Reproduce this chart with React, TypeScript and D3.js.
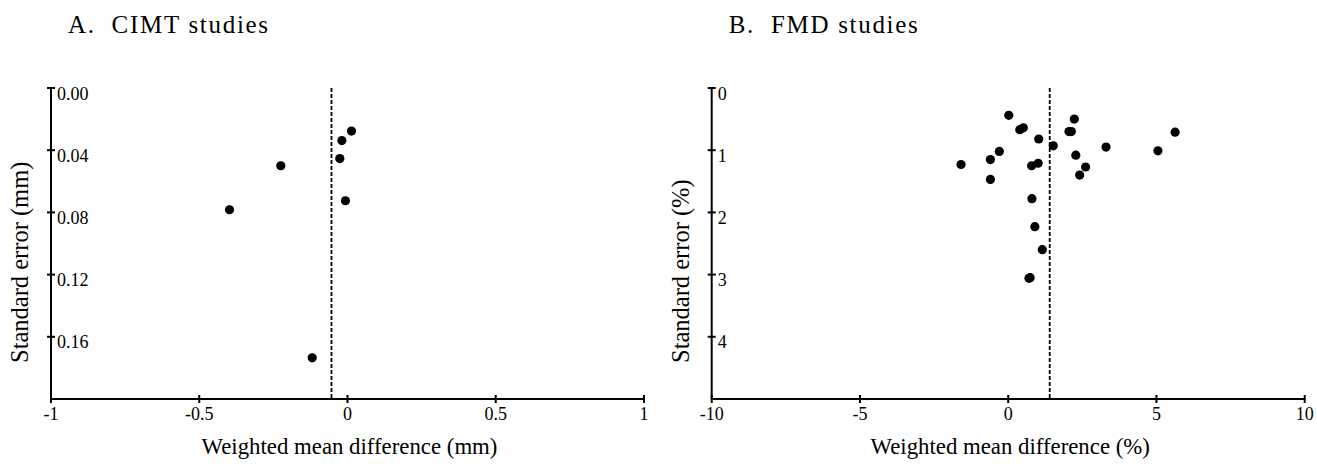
import React from "react";
import { scaleLinear } from "d3";

// Panel A: CIMT studies
const cimtWmd = [-0.398, -0.225, -0.119, 0.0135, -0.019, -0.026, -0.007];
const cimtSe = [0.0783, 0.05, 0.1735, 0.0277, 0.0338, 0.0454, 0.0725];
const cimtPooled = -0.054;
const cimtXTicks = [-1, -0.5, 0, 0.5, 1];
const cimtXLabels = ["-1", "-0.5", "0", "0.5", "1"];
const cimtYTicks = [0, 0.04, 0.08, 0.12, 0.16];
const cimtYLabels = ["0.00", "0.04", "0.08", "0.12", "0.16"];

// Panel B: FMD studies
const fmdWmd = [
  0.02, 0.39, 0.51, 1.03, 1.52, 2.23, 2.05, 2.13, 3.3, -0.3, -0.6, -1.59, -0.6,
  0.79, 1.01, 2.28, 2.61, 2.41, 5.05, 5.63, 0.8, 0.9, 1.15, 0.7, 0.74,
];
const fmdSe = [
  0.44, 0.67, 0.64, 0.82, 0.93, 0.5, 0.7, 0.7, 0.95, 1.02, 1.15, 1.23, 1.47,
  1.25, 1.21, 1.08, 1.27, 1.4, 1.01, 0.71, 1.78, 2.23, 2.6, 3.06, 3.05,
];
const fmdPooled = 1.4;
const fmdXTicks = [-10, -5, 0, 5, 10];
const fmdXLabels = ["-10", "-5", "0", "5", "10"];
const fmdYTicks = [0, 1, 2, 3, 4];
const fmdYLabels = ["0", "1", "2", "3", "4"];

const FONT = "Liberation Serif";

interface PanelProps {
  left: number;
  title: string;
  xLabel: string;
  yLabel: string;
  xDomain: [number, number];
  yDomain: [number, number];
  xTicks: number[];
  xLabels: string[];
  yTicks: number[];
  yLabels: string[];
  wmd: number[];
  se: number[];
  pooled: number;
}

const Panel: React.FC<PanelProps> = (p) => {
  const top = 88;
  const bottom = 399;
  const plotW = 593;

  const x = scaleLinear().domain(p.xDomain).range([p.left, p.left + plotW]);
  const y = scaleLinear().domain(p.yDomain).range([top, bottom]);
  const txt = { fontFamily: FONT };

  return (
    <g fill="#000">
      {/* titulo del panel */}
      <text
        x={p.left + 17}
        y={33}
        fontSize={25}
        letterSpacing={1.7}
        style={{ ...txt, whiteSpace: "pre" }}
      >
        {p.title}
      </text>

      {/* eje Y */}
      <line x1={p.left} x2={p.left} y1={top} y2={bottom} stroke="#000" strokeWidth={2} />
      {p.yTicks.map((t, i) => (
        <g key={`yt-${i}`}>
          <line x1={p.left - 4} x2={p.left + 4} y1={y(t)} y2={y(t)} stroke="#000" strokeWidth={2} />
          <text x={p.left + 6} y={y(t) + 11.5} fontSize={18} style={txt}>
            {p.yLabels[i]}
          </text>
        </g>
      ))}
      <text
        transform={`translate(${p.left - 23}, 363) rotate(-90)`}
        fontSize={24.5}
        textAnchor="start"
        style={txt}
      >
        {p.yLabel}
      </text>

      {/* eje X */}
      <line x1={p.left} x2={p.left + plotW} y1={bottom} y2={bottom} stroke="#000" strokeWidth={2} />
      {p.xTicks.map((t, i) => (
        <g key={`xt-${i}`}>
          <line x1={x(t)} x2={x(t)} y1={bottom - 4} y2={bottom + 4} stroke="#000" strokeWidth={2} />
          <text x={x(t)} y={420} fontSize={18} textAnchor="middle" style={txt}>
            {p.xLabels[i]}
          </text>
        </g>
      ))}
      <text x={p.left + plotW / 2 + 2} y={454} fontSize={22.8} textAnchor="middle" style={txt}>
        {p.xLabel}
      </text>

      {/* linea del efecto combinado */}
      <line
        x1={x(p.pooled)}
        x2={x(p.pooled)}
        y1={top}
        y2={bottom}
        stroke="#000"
        strokeWidth={1.8}
        strokeDasharray="4,2"
      />

      {/* estudios */}
      {p.wmd.map((d, i) => (
        <circle key={`pt-${i}`} cx={x(d)} cy={y(p.se[i])} r={4.6} fill="#000" />
      ))}
    </g>
  );
};

export default function App() {
  return (
    <div style={{ position: "absolute", left: 0, top: 0 }}>
      <svg width={1317} height={466} viewBox="0 0 1317 466" style={{ display: "block", background: "#fff" }}>
        <Panel
          left={51}
          title="A.  CIMT studies"
          xLabel="Weighted mean difference (mm)"
          yLabel="Standard error (mm)"
          xDomain={[-1, 1]}
          yDomain={[0, 0.2]}
          xTicks={cimtXTicks}
          xLabels={cimtXLabels}
          yTicks={cimtYTicks}
          yLabels={cimtYLabels}
          wmd={cimtWmd}
          se={cimtSe}
          pooled={cimtPooled}
        />
        <Panel
          left={711.7}
          title="B.  FMD studies"
          xLabel="Weighted mean difference (%)"
          yLabel="Standard error (%)"
          xDomain={[-10, 10]}
          yDomain={[0, 5]}
          xTicks={fmdXTicks}
          xLabels={fmdXLabels}
          yTicks={fmdYTicks}
          yLabels={fmdYLabels}
          wmd={fmdWmd}
          se={fmdSe}
          pooled={fmdPooled}
        />
      </svg>
    </div>
  );
}
